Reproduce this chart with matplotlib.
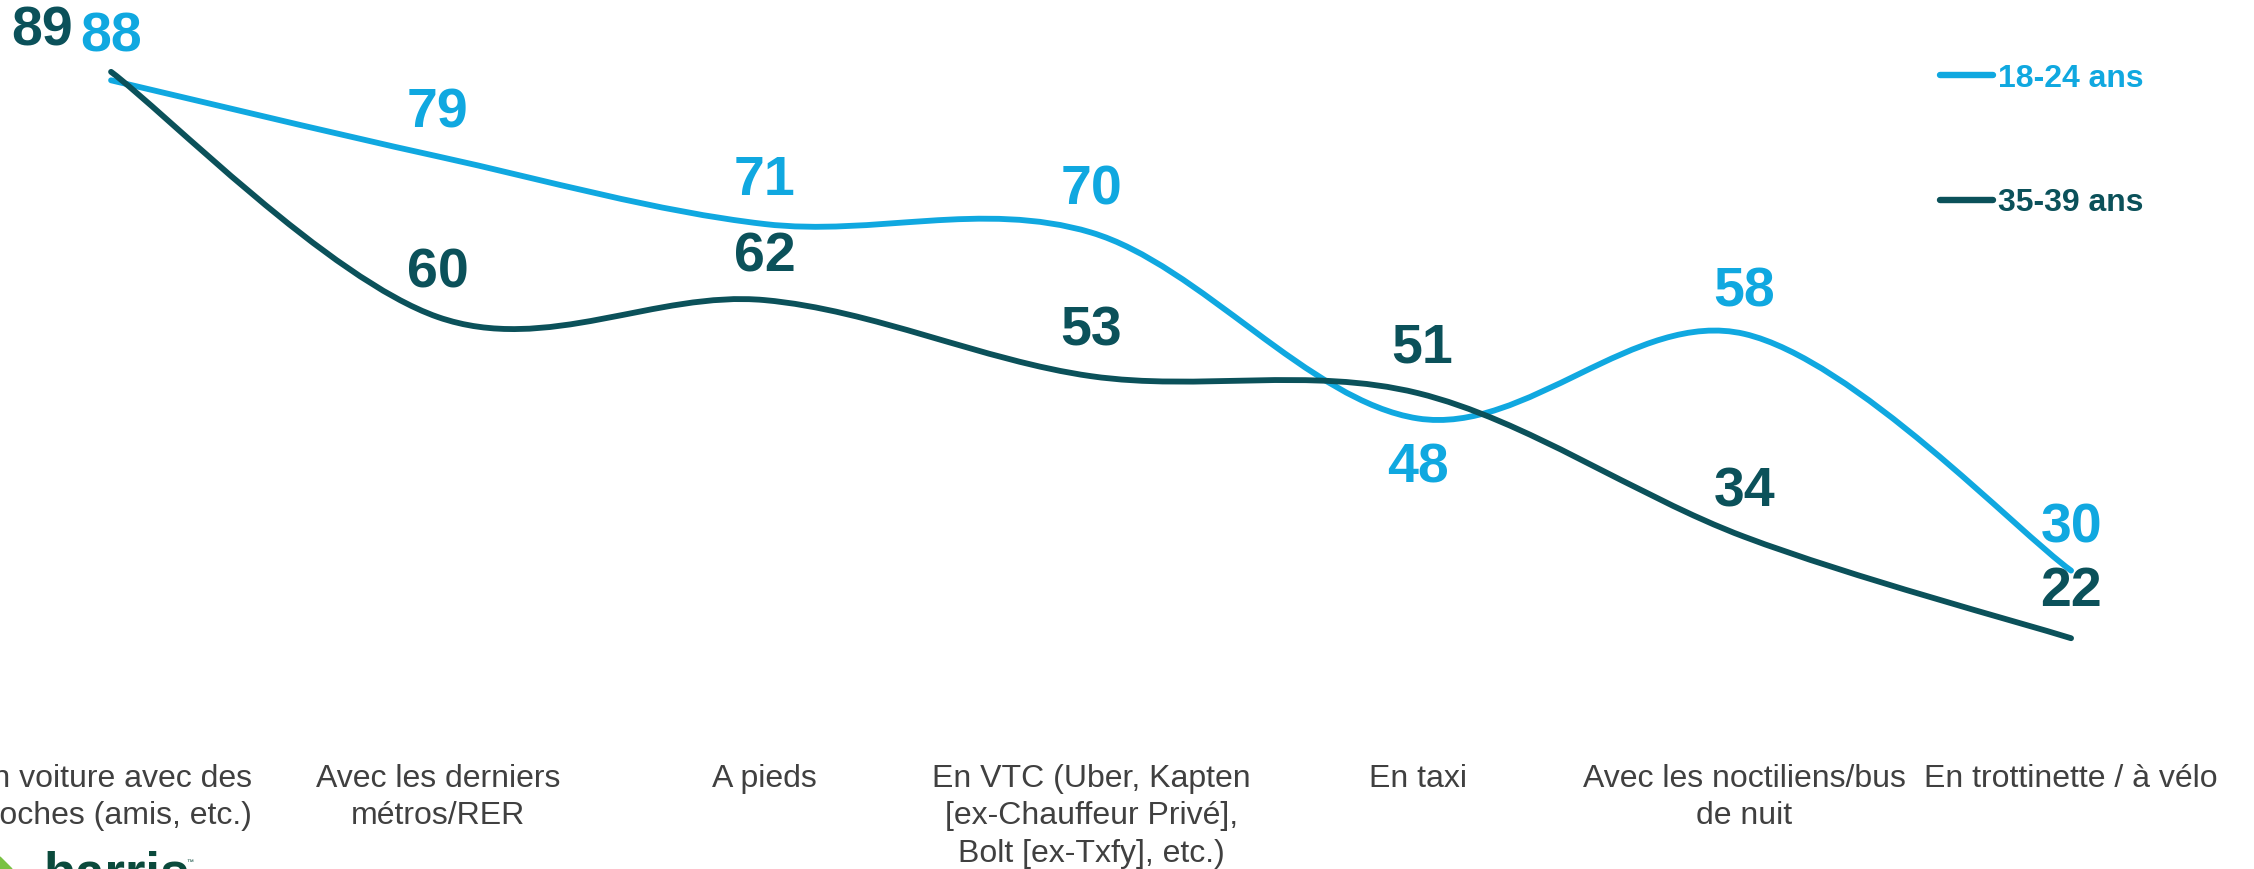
import matplotlib.pyplot as plt
import numpy as np
from matplotlib.path import Path
from matplotlib.patches import PathPatch, Polygon

plt.rcParams['font.family'] = ['Liberation Sans', 'DejaVu Sans']

categories = [
    "En voiture avec des\nproches (amis, etc.)",
    "Avec les derniers\nmétros/RER",
    "A pieds",
    "En VTC (Uber, Kapten\n[ex-Chauffeur Privé],\nBolt [ex-Txfy], etc.)",
    "En taxi",
    "Avec les noctiliens/bus\nde nuit",
    "En trottinette / à vélo",
]
young = [88, 79, 71, 70, 48, 58, 30]
older = [89, 60, 62, 53, 51, 34, 22]
series_names = ["18-24 ans", "35-39 ans"]

BLUE = "#10A8E0"
TEAL = "#0B515A"
GREY = "#404040"


def smooth_path(xs, ys):
    # Excel-like smoothed line: cubic Bezier through every point (Catmull-Rom tangents)
    pts = np.column_stack([xs, ys]).astype(float)
    padded = np.vstack([pts[0], pts, pts[-1]])
    verts = [pts[0]]
    codes = [Path.MOVETO]
    for i in range(len(pts) - 1):
        p0, p1, p2, p3 = padded[i], padded[i + 1], padded[i + 2], padded[i + 3]
        verts += [p1 + (p2 - p0) / 6, p2 - (p3 - p1) / 6, p2]
        codes += [Path.CURVE4] * 3
    return Path(verts, codes)


fig = plt.figure(figsize=(22.54, 8.69), dpi=100)
ax = fig.add_axes([0, 0, 1, 1])
ax.set_xlim(-0.34, 6.56)
ax.set_ylim(-5.3, 97.5)
ax.axis("off")

x = np.arange(len(categories))

for vals, color, name in [(young, BLUE, series_names[0]), (older, TEAL, series_names[1])]:
    patch = PathPatch(smooth_path(x, vals), facecolor="none", edgecolor=color,
                      lw=4.2, capstyle="round", joinstyle="round")
    ax.add_patch(patch)
    # invisible handle for the legend
    ax.plot([], [], color=color, lw=4.6, solid_capstyle="round", label=name)

# value labels
young_offsets = [(0, 31), (0, 31), (0, 31), (0, 30), (0, -36), (0, 30), (0, 30)]
older_offsets = [(-50, 29), (0, 31), (0, 31), (0, 32), (3, 32), (0, 32), (0, 33)]
for vals, offs, color in [(young, young_offsets, BLUE), (older, older_offsets, TEAL)]:
    for xi, v, off in zip(x, vals, offs):
        ax.annotate(str(v), (xi, v), xytext=off, textcoords="offset points",
                    ha="center", va="center", fontsize=40, fontweight="bold", color=color)

# category labels under the chart
trans = ax.get_xaxis_transform()
for xi, label in zip(x, categories):
    ax.text(xi, 0.121, label, transform=trans, ha="center", va="top",
            fontsize=23, color=GREY, linespacing=1.32)

ax.legend(loc="upper left", bbox_to_anchor=(0.848, 0.96), frameon=False,
          handlelength=1.66, handletextpad=0.15, labelspacing=2.95,
          labelcolor="linecolor", prop={"size": 23, "weight": "bold"})

# harris logo, cut by the bottom edge
fig.text(43 / 2254, -0.024, "harris", fontsize=38, fontweight="bold",
         color="#0B4A3C", ha="left", va="baseline")
fig.text(186 / 2254, 0.006, "™", fontsize=5, color="#0B4A3C")
fig.patches.append(Polygon([[0, 0], [12 / 2254, 0], [0, 12 / 869]], closed=True,
                           transform=fig.transFigure, color="#7AC143"))

fig.savefig("out.png", dpi=100)
